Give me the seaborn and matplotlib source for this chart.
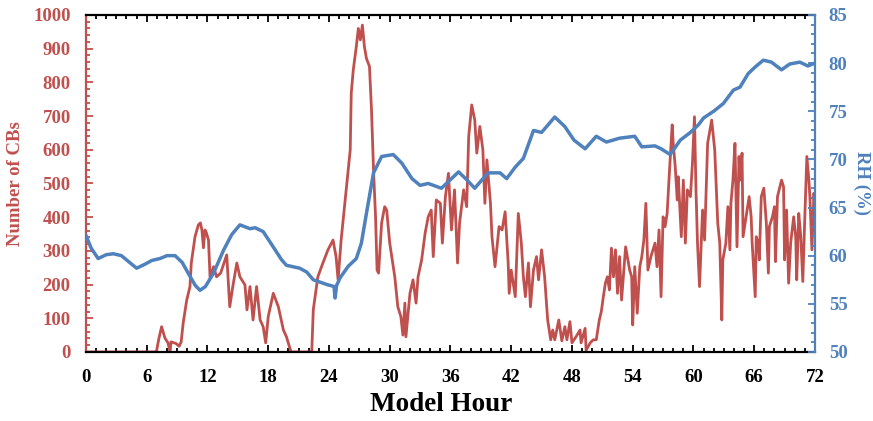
import numpy as np
import pandas as pd
import seaborn as sns
import matplotlib.pyplot as plt
from matplotlib.ticker import MultipleLocator

# Number of CBs (left axis)
cb_hour = [0, 6.95, 7.2, 7.47, 7.8, 8.1, 8.3, 8.4, 8.9, 9.2, 9.4, 9.6, 9.95, 10.27, 10.4, 10.77,
           11.1, 11.3, 11.45, 11.6, 11.75, 11.9, 12.1, 12.25, 12.6, 12.9, 13.3, 13.9, 14.2, 14.5,
           14.9, 15.2, 15.7, 15.9, 16.2, 16.5, 16.85, 17.2, 17.5, 17.75, 18.0, 18.5, 19.0, 19.5,
           19.8, 20.2, 20.3, 22.3, 22.45, 22.9, 23.4, 23.9, 24.4, 24.7, 24.9, 25.2, 25.4, 25.7,
           26.1, 26.2, 26.4, 26.7, 26.9, 27.1, 27.3, 27.5, 27.7, 28.0, 28.2, 28.4, 28.6, 28.75,
           28.9, 29.2, 29.5, 29.7, 30.0, 30.5, 30.8, 31.1, 31.3, 31.5, 31.6, 32.0, 32.3, 32.6,
           32.8, 33.15, 33.5, 33.8, 34.1, 34.3, 34.6, 35.0, 35.2, 35.5, 35.8, 36.1, 36.4, 36.7,
           36.9, 37.3, 37.6, 37.8, 38.1, 38.4, 38.6, 38.9, 39.2, 39.4, 39.6, 39.95, 40.1, 40.4,
           40.8, 41.1, 41.4, 41.7, 41.8, 42.0, 42.4, 42.7, 43.0, 43.2, 43.4, 43.7, 43.9, 44.2,
           44.5, 44.7, 45.0, 45.3, 45.6, 45.9, 46.1, 46.3, 46.7, 47.0, 47.3, 47.5, 47.8, 48.0,
           48.4, 48.8, 48.9, 49.3, 49.4, 49.8, 50.1, 50.4, 50.7, 50.9, 51.1, 51.3, 51.5, 51.7,
           51.9, 52.1, 52.3, 52.5, 52.7, 52.9, 53.3, 53.7, 53.9, 54.0, 54.2, 54.45, 54.7, 54.9,
           55.1, 55.3, 55.5, 55.8, 56.2, 56.4, 56.6, 56.8, 57.0, 57.2, 57.4, 57.6, 57.9, 58.0,
           58.2, 58.4, 58.5, 58.8, 59.0, 59.2, 59.4, 59.7, 59.9, 60.1, 60.25, 60.4, 60.6, 60.9,
           61.1, 61.3, 61.4, 61.8, 62.1, 62.4, 62.6, 62.8, 62.9, 63.2, 63.4, 63.6, 63.7, 63.9,
           64.1, 64.3, 64.5, 64.6, 64.8, 64.9, 65.2, 65.5, 65.7, 65.8, 66.1, 66.2, 66.4, 66.5,
           66.7, 66.95, 67.2, 67.4, 67.5, 67.8, 68.0, 68.1, 68.3, 68.7, 68.9, 69.0, 69.2, 69.4,
           69.6, 69.9, 70.1, 70.2, 70.4, 70.6, 70.8, 71.0, 71.2, 71.4, 71.5, 71.7, 71.9, 72.0]
cb_count = [0, 0, 40, 75, 41, 27, 0, 30, 25, 17, 30, 86, 154, 194, 264, 342,
            377, 383, 362, 309, 362, 353, 332, 223, 253, 223, 234, 288, 134, 194,
            264, 223, 199, 125, 194, 95, 194, 95, 75, 27, 105, 174, 134, 65,
            45, 5, 0, 0, 125, 223, 264, 303, 332, 283, 214, 332, 392, 481,
            600, 768, 837, 906, 960, 926, 970, 906, 871, 847, 718, 540, 401, 243,
            234, 383, 431, 421, 323, 223, 134, 105, 50, 145, 45, 174, 214, 145,
            223, 273, 353, 401, 421, 283, 451, 441, 323, 461, 530, 362, 481, 264,
            383, 481, 431, 639, 733, 688, 590, 669, 600, 441, 570, 441, 342, 253,
            372, 362, 416, 264, 174, 243, 164, 411, 323, 223, 164, 264, 134, 243,
            283, 214, 303, 223, 95, 36, 65, 36, 95, 33, 75, 36, 90, 27,
            45, 65, 27, 70, 5, 27, 36, 36, 95, 120, 164, 204, 223, 184,
            308, 223, 303, 174, 283, 154, 312, 243, 223, 80, 253, 115, 253, 283,
            332, 441, 243, 283, 323, 253, 362, 164, 401, 372, 411, 520, 674, 619,
            550, 451, 520, 342, 510, 323, 481, 461, 560, 698, 481, 323, 194, 421,
            332, 520, 619, 688, 600, 382, 323, 95, 273, 323, 431, 303, 441, 510,
            619, 312, 580, 510, 590, 342, 401, 461, 401, 323, 164, 342, 323, 273,
            461, 486, 382, 234, 372, 401, 431, 268, 461, 510, 490, 273, 421, 204,
            323, 401, 342, 214, 411, 342, 209, 401, 580, 510, 461, 303, 471, 421]

# RH (%) (right axis)
rh_hour = [0, 0.5, 1.2, 2.0, 2.7, 3.5, 4.3, 5.0, 5.8, 6.5, 7.3, 8.0, 8.8, 9.5, 10.3, 10.8,
           11.26, 11.8, 12.6, 13.6, 14.4, 15.2, 16.2, 16.7, 17.5, 18.5, 19.3, 19.8, 21.1, 21.8,
           22.45, 23.8, 24.5, 24.6, 24.75, 25.1, 25.9, 26.7, 27.2, 27.7, 28.4, 29.2, 30.35, 31.2,
           32.2, 33.0, 33.8, 35.1, 36.3, 36.8, 37.5, 38.4, 39.7, 40.9, 41.55, 42.4, 43.2, 44.2,
           45.0, 46.3, 47.3, 48.2, 49.3, 50.4, 51.4, 52.7, 54.2, 54.9, 56.2, 56.8, 57.7, 58.7,
           59.7, 60.5, 61.0, 62.0, 62.95, 63.95, 64.6, 65.4, 66.1, 66.9, 67.7, 68.7, 69.5, 70.5,
           71.3, 72.0]
rh_value = [62.1, 60.8, 59.7, 60.1, 60.2, 60.0, 59.3, 58.7, 59.1, 59.5, 59.7, 60.0, 60.0, 59.3, 57.8, 56.9,
            56.4, 56.8, 58.2, 60.6, 62.2, 63.2, 62.8, 62.9, 62.5, 60.9, 59.6, 59.0, 58.7, 58.3,
            57.5, 57.0, 56.8, 55.6, 56.9, 57.7, 58.9, 59.7, 61.3, 64.4, 68.6, 70.3, 70.5, 69.6,
            68.0, 67.3, 67.5, 67.0, 68.2, 68.7, 68.0, 67.0, 68.6, 68.6, 68.0, 69.2, 70.1, 73.0,
            72.8, 74.4, 73.4, 72.0, 71.1, 72.4, 71.8, 72.2, 72.4, 71.3, 71.4, 71.1, 70.5, 72.0,
            72.8, 73.6, 74.3, 75.0, 75.8, 77.2, 77.5, 78.9, 79.6, 80.3, 80.1, 79.3, 79.9, 80.1,
            79.7, 80.0]

x_ticks = list(range(0, 73, 6))

red = '#C0504D'
blue = '#4F81BD'

sns.set_style("ticks")
plt.rcParams['font.family'] = ['Liberation Serif', 'DejaVu Serif']
plt.rcParams['font.weight'] = 'bold'

cb_df = pd.DataFrame({'hour': cb_hour, 'cbs': cb_count})
rh_df = pd.DataFrame({'hour': rh_hour, 'rh': rh_value})

fig = plt.figure(figsize=(8.73, 4.21), dpi=100)
ax = fig.add_axes([0.0985, 0.164, 0.835, 0.8005])
ax2 = ax.twinx()

sns.lineplot(data=cb_df, x='hour', y='cbs', ax=ax, color=red, linewidth=2.0)
sns.lineplot(data=rh_df, x='hour', y='rh', ax=ax2, color=blue, linewidth=2.5)

# axes limits and ticks
ax.set_xlim(0, 72)
ax.set_ylim(0, 1000)
ax2.set_ylim(50, 85)
ax.set_xticks(x_ticks)
ax.xaxis.set_minor_locator(MultipleLocator(1))
ax.yaxis.set_major_locator(MultipleLocator(100))
ax.yaxis.set_minor_locator(MultipleLocator(20))
ax2.yaxis.set_major_locator(MultipleLocator(5))
ax2.yaxis.set_minor_locator(MultipleLocator(1))

# spines
for s in ['top', 'bottom']:
    ax.spines[s].set_color('black')
    ax.spines[s].set_linewidth(1.6)
ax.spines['left'].set_color(red)
ax.spines['left'].set_linewidth(1.6)
ax.spines['right'].set_visible(False)
for s in ['top', 'bottom', 'left']:
    ax2.spines[s].set_visible(False)
ax2.spines['right'].set_color(blue)
ax2.spines['right'].set_linewidth(1.6)

ax.tick_params(axis='x', which='both', direction='in', top=True, colors='black',
               labelsize=13.5, pad=12, width=1.3)
ax.tick_params(axis='x', which='major', length=5)
ax.tick_params(axis='x', which='minor', length=3)
ax.tick_params(axis='y', which='both', direction='in', colors=red, labelsize=13.5, pad=11, width=1.3)
ax.tick_params(axis='y', which='major', length=5)
ax.tick_params(axis='y', which='minor', length=3)
ax2.tick_params(axis='y', which='both', direction='in', colors=blue, labelsize=13.5, pad=10, width=1.3)
ax2.tick_params(axis='y', which='major', length=5)
ax2.tick_params(axis='y', which='minor', length=3)

for lab in ax.get_xticklabels() + ax.get_yticklabels() + ax2.get_yticklabels():
    lab.set_fontweight('bold')

# labels
ax.set_xlabel('Model Hour', fontsize=19.5, fontweight='bold', color='black', va='center')
ax.xaxis.set_label_coords(0.487, -0.157)
ax.set_ylabel('Number of CBs', fontsize=13.5, fontweight='bold', color=red, va='center')
ax.yaxis.set_label_coords(-0.097, 0.5)
ax2.set_ylabel('RH (%)', fontsize=13.5, fontweight='bold', color=blue, rotation=270, va='center')
ax2.yaxis.set_label_coords(1.064, 0.5)

plt.savefig('out.png', dpi=100)
